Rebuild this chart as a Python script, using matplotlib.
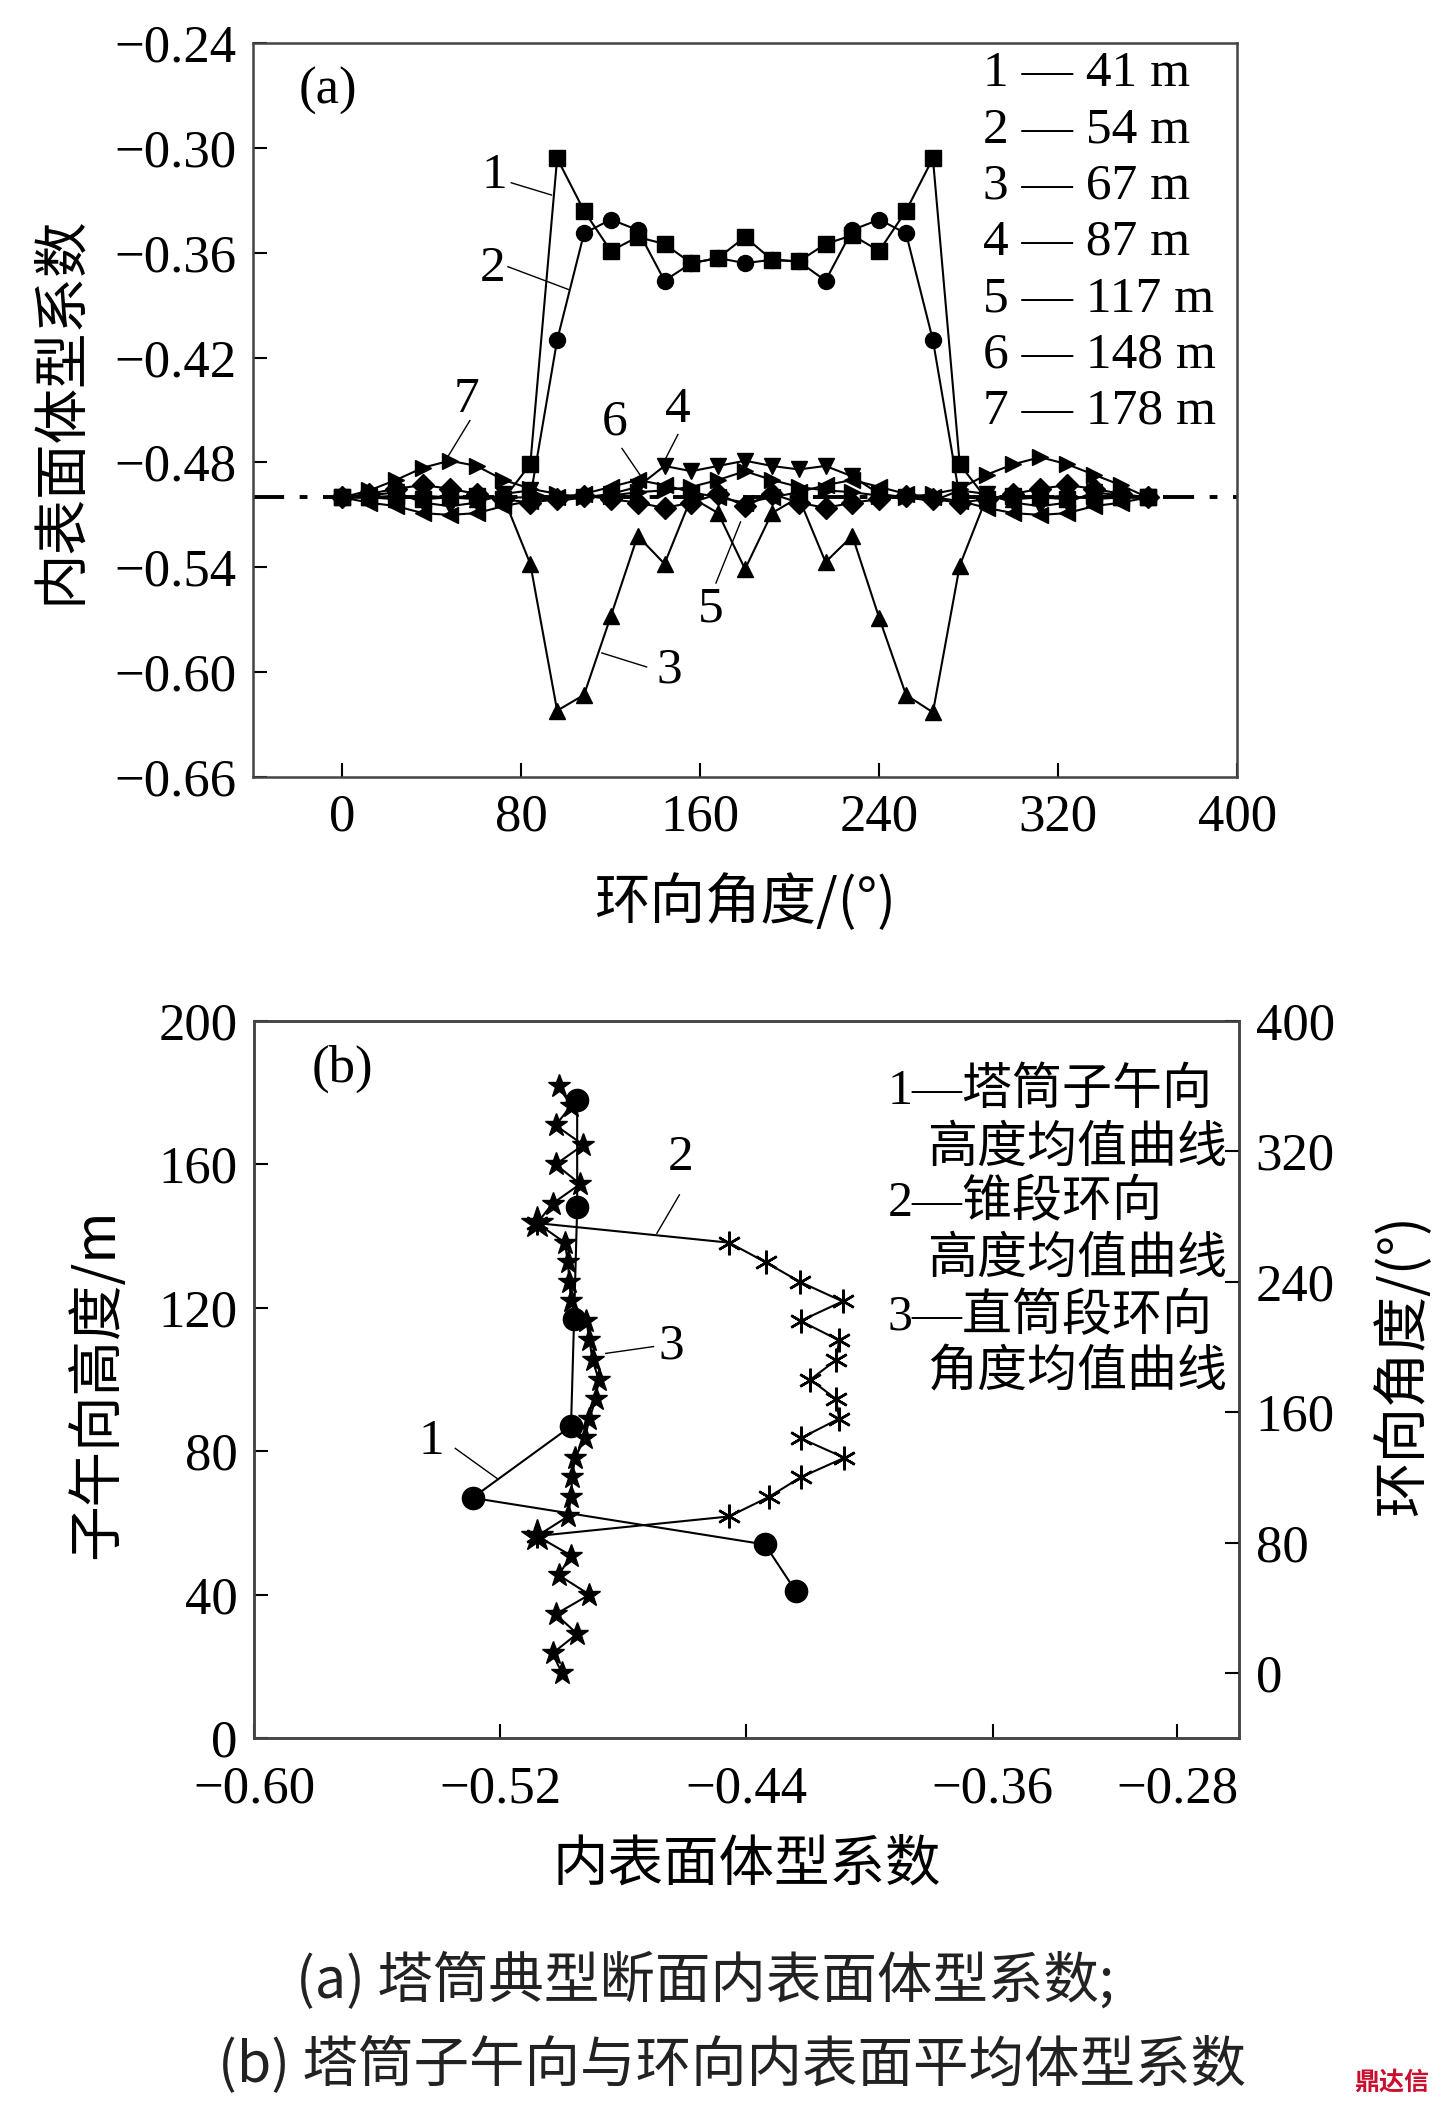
import matplotlib
matplotlib.use('Agg')
from matplotlib import pyplot as plt

SERIF = ['Liberation Serif', 'Noto Sans CJK SC']
CJK = ['Noto Sans CJK SC', 'Liberation Serif']
plt.rcParams['font.family'] = SERIF
plt.rcParams['axes.unicode_minus'] = True

# ---- panel (a): inner surface shape coefficient vs circumferential angle ----
angles = [0, 12, 24, 36, 48, 60, 72, 84, 96, 108, 120, 132, 144, 156, 168, 180,
          192, 204, 216, 228, 240, 252, 264, 276, 288, 300, 312, 324, 336, 348, 360]

h41 = [-0.500, -0.500, -0.499, -0.501, -0.500, -0.499, -0.501, -0.481, -0.306, -0.336, -0.359,
       -0.351, -0.355, -0.366, -0.363, -0.351, -0.364, -0.365, -0.355, -0.350, -0.359, -0.336,
       -0.306, -0.481, -0.501, -0.499, -0.500, -0.501, -0.499, -0.500, -0.500]
h54 = [-0.500, -0.500, -0.500, -0.500, -0.500, -0.500, -0.500, -0.500, -0.410, -0.349, -0.341,
       -0.347, -0.376, -0.366, -0.363, -0.366, -0.364, -0.365, -0.376, -0.347, -0.341, -0.349,
       -0.410, -0.500, -0.500, -0.500, -0.500, -0.500, -0.500, -0.500, -0.500]
h67 = [-0.500, -0.500, -0.501, -0.499, -0.500, -0.501, -0.500, -0.538, -0.622, -0.613, -0.568,
       -0.522, -0.538, -0.500, -0.509, -0.541, -0.509, -0.500, -0.537, -0.522, -0.569, -0.613,
       -0.623, -0.539, -0.500, -0.501, -0.500, -0.499, -0.501, -0.500, -0.500]
h87 = [-0.500, -0.499, -0.497, -0.503, -0.505, -0.503, -0.498, -0.496, -0.502, -0.500, -0.498,
       -0.494, -0.482, -0.485, -0.482, -0.479, -0.482, -0.484, -0.482, -0.488, -0.498, -0.500,
       -0.502, -0.496, -0.498, -0.503, -0.505, -0.503, -0.497, -0.499, -0.500]
h117 = [-0.500, -0.498, -0.495, -0.493, -0.495, -0.498, -0.501, -0.503, -0.501, -0.499, -0.501,
        -0.503, -0.506, -0.503, -0.498, -0.505, -0.498, -0.503, -0.506, -0.503, -0.501, -0.499,
        -0.501, -0.503, -0.501, -0.498, -0.495, -0.493, -0.495, -0.498, -0.500]
h148 = [-0.500, -0.503, -0.505, -0.509, -0.510, -0.509, -0.505, -0.502, -0.500, -0.498, -0.494,
        -0.490, -0.493, -0.497, -0.500, -0.503, -0.500, -0.497, -0.493, -0.490, -0.494, -0.498,
        -0.500, -0.502, -0.506, -0.509, -0.510, -0.509, -0.505, -0.503, -0.500]
h178 = [-0.500, -0.496, -0.490, -0.483, -0.479, -0.482, -0.490, -0.495, -0.498, -0.500, -0.499,
        -0.497, -0.496, -0.494, -0.490, -0.485, -0.490, -0.494, -0.496, -0.497, -0.499, -0.500,
        -0.498, -0.495, -0.487, -0.481, -0.477, -0.481, -0.487, -0.493, -0.500]

series_a = [h41, h54, h67, h87, h117, h148, h178]
markers_a = ['s', 'o', '^', 'v', 'D', '<', '>']
legend_a = ['1 — 41 m', '2 — 54 m', '3 — 67 m', '4 — 87 m', '5 — 117 m', '6 — 148 m', '7 — 178 m']

# ---- panel (b): mean coefficients ----
heights = [41, 54, 67, 87, 117, 148, 178]
coef_height = [-0.424, -0.434, -0.529, -0.497, -0.496, -0.495, -0.495]

cone_angles = [84, 96, 108, 120, 132, 144, 156, 168, 180, 192, 204, 216, 228, 240, 252, 264, 276]
cone_coef = [-0.508, -0.4456, -0.4327, -0.4224, -0.4082, -0.4224, -0.4099, -0.4109, -0.4192,
             -0.4109, -0.4099, -0.4224, -0.4088, -0.4227, -0.4338, -0.4456, -0.508]

straight_coef = [-0.500, -0.503, -0.495, -0.502, -0.491, -0.501, -0.497, -0.508, -0.498, -0.497,
                 -0.4966, -0.4957, -0.4925, -0.491, -0.489, -0.488, -0.490, -0.491, -0.492, -0.497,
                 -0.4975, -0.498, -0.499, -0.508, -0.503, -0.494, -0.502, -0.493, -0.502, -0.497,
                 -0.501]


def fmt(v):
    return f"{v:.2f}".replace('-', '\u2212')


def style_axes(ax):
    for s in ax.spines.values():
        s.set_linewidth(1.8)
        s.set_color('#444444')
    ax.tick_params(direction='in', length=10, width=1.5, labelsize=38, pad=12)


fig = plt.figure(figsize=(14.43, 21.07), dpi=100)

# panel (a)
ax = fig.add_axes([0.1753, 0.6312, 0.6820, 0.3484])
ax.axhline(-0.50, color='k', lw=2.8, ls=(0, (8, 4, 2, 4)), zorder=1)
for ys, m in zip(series_a, markers_a):
    ax.plot(angles, ys, color='k', lw=1.5, marker=m, ms=11.5, zorder=3)
ax.set_xlim(-40, 400)
ax.set_ylim(-0.66, -0.24)
ax.set_xticks([0, 80, 160, 240, 320, 400])
yt = [-0.66, -0.60, -0.54, -0.48, -0.42, -0.36, -0.30, -0.24]
ax.set_yticks(yt)
ax.set_yticklabels([fmt(v) for v in yt])
style_axes(ax)
ax.set_xlabel('环向角度/(°)', family=CJK, fontsize=40, va='center')
ax.xaxis.set_label_coords(0.5, -0.172)
ax.set_ylabel('内表面体型系数', family=CJK, fontsize=40, va='center')
ax.yaxis.set_label_coords(-0.196, 0.5)
ax.text(0.046, 0.935, '(a)', transform=ax.transAxes, fontsize=38, va='center')
for i, t in enumerate(legend_a):
    ax.text(0.742, 0.958 - i * 0.0767, t, transform=ax.transAxes, fontsize=37, va='center')

ann_a = [('1', (68, -0.316), (75.5, -0.320), (93.5, -0.327)),
         ('2', (67, -0.369), (74, -0.368), (101, -0.381)),
         ('3', (146, -0.599), (136, -0.597), (116, -0.589)),
         ('4', (150, -0.450), (150, -0.464), (144, -0.479)),
         ('5', (164.5, -0.564), (167, -0.549), (178, -0.514)),
         ('6', (121.6, -0.457), (125, -0.472), (133, -0.487)),
         ('7', (55.4, -0.444), (57, -0.456), (47, -0.477))]
for lab, tpos, p0, p1 in ann_a:
    ax.text(*tpos, lab, fontsize=37, ha='center', va='center')
    ax.plot([p0[0], p1[0]], [p0[1], p1[1]], color='k', lw=1.0)

# panel (b)
bx = fig.add_axes([0.1760, 0.1751, 0.6826, 0.3403])
bx.plot(coef_height, heights, color='k', lw=1.5, marker='o', ms=16, zorder=4)
bx.set_xlim(-0.60, -0.28)
bx.set_ylim(0, 200)
xt = [-0.60, -0.52, -0.44, -0.36, -0.30]
bx.set_xticks(xt)
bx.set_xticklabels(['\u22120.60', '\u22120.52', '\u22120.44', '\u22120.36', '\u22120.28'])
bx.set_yticks([0, 40, 80, 120, 160, 200])
style_axes(bx)
bx.tick_params(axis='x', pad=20)
bx.set_xlabel('内表面体型系数', family=CJK, fontsize=40, va='center')
bx.xaxis.set_label_coords(0.5, -0.177)
bx.set_ylabel('子午向高度/m', family=CJK, fontsize=40, va='center')
bx.yaxis.set_label_coords(-0.159, 0.494)

b2 = bx.twinx()
b2.plot(cone_coef, cone_angles, color='k', lw=1.5, marker=(6, 2, 0), ms=17, mew=1.8, zorder=3)
b2.plot(straight_coef, angles, color='k', lw=1.5, marker='*', ms=17, zorder=3)
b2.plot([straight_coef[7], straight_coef[23]], [angles[7], angles[23]], ls='none',
        marker='*', ms=24, color='k')
b2.set_ylim(-40, 400)
b2.set_yticks([0, 80, 160, 240, 320, 400])
style_axes(b2)
b2.set_ylabel('环向角度/(°)', family=CJK, fontsize=40, va='center')
b2.yaxis.set_label_coords(1.167, 0.52)

bx.text(0.059, 0.934, '(b)', transform=bx.transAxes, fontsize=38, va='center')
legend_b = [('1—塔筒子午向', 0.643, 0.902), ('高度均值曲线', 0.683, 0.821),
            ('2—锥段环向', 0.643, 0.746), ('高度均值曲线', 0.683, 0.666),
            ('3—直筒段环向', 0.643, 0.587), ('角度均值曲线', 0.683, 0.508)]
for t, x, y in legend_b:
    bx.text(x, y, t, transform=bx.transAxes, fontsize=36, va='center', family=SERIF)

ann_b = [('1', (-0.5423, 82.6), (-0.5346, 80.8), (-0.521, 72.4)),
         ('2', (-0.4615, 161.8), (-0.4618, 151.5), (-0.4691, 140.8)),
         ('3', (-0.4645, 109.3), (-0.4702, 109.2), (-0.4857, 107.3))]
for lab, tpos, p0, p1 in ann_b:
    bx.text(*tpos, lab, fontsize=37, ha='center', va='center')
    bx.plot([p0[0], p1[0]], [p0[1], p1[1]], color='k', lw=1.0)

# captions
fig.text(705 / 1443, 1 - 1982 / 2107, '(a) 塔筒典型断面内表面体型系数;', family=CJK,
         fontsize=40, ha='center', va='center', color='#222222')
fig.text(732 / 1443, 1 - 2066 / 2107, '(b) 塔筒子午向与环向内表面平均体型系数', family=CJK,
         fontsize=40, ha='center', va='center', color='#222222')
fig.text(1392 / 1443, 1 - 2083 / 2107, '鼎达信', family=CJK, fontsize=18, weight='bold',
         color='#c8102e', ha='center', va='center')

fig.savefig('out.png', dpi=100)
